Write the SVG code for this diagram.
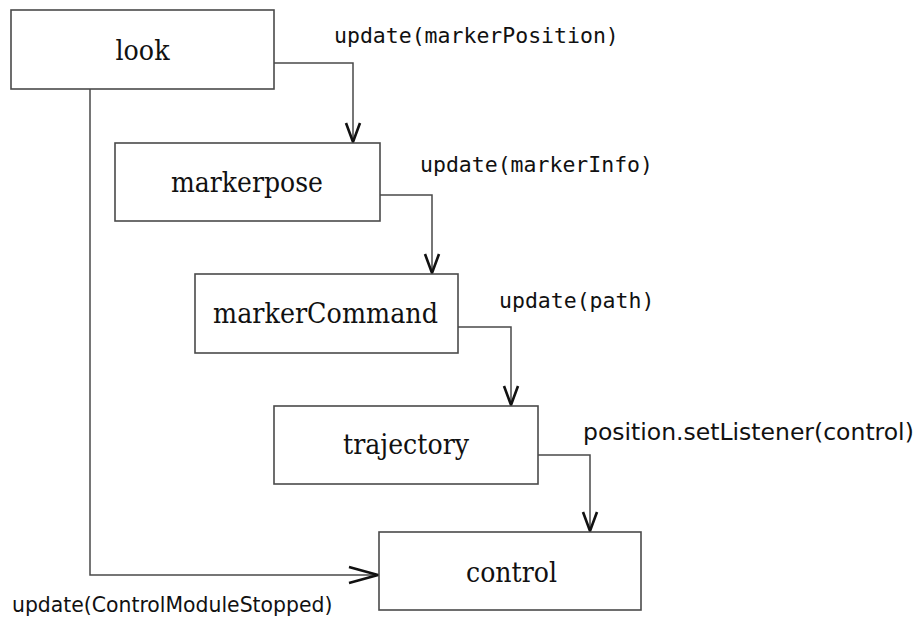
<svg xmlns="http://www.w3.org/2000/svg" width="917" height="624" viewBox="0 0 917 624">
  <defs>
    <style>
      .box { fill: #ffffff; stroke: #4a4a4a; stroke-width: 1.6; }
      .node-label { font-family: "DejaVu Serif", "Liberation Serif", serif; font-size: 27.5px; fill: #111; text-anchor: middle; }
      .wire { fill: none; stroke: #4a4a4a; stroke-width: 1.5; }
      .head { fill: none; stroke: #111; stroke-width: 2.6; stroke-linejoin: miter; }
      .mono { font-family: "DejaVu Sans Mono", "Liberation Mono", monospace; font-size: 21.5px; fill: #111; }
      .sans { font-family: "DejaVu Sans", "Liberation Sans", sans-serif; fill: #111; }
    </style>
  </defs>
  <rect width="917" height="624" fill="#ffffff"/>

  <!-- connectors -->
  <g id="connectors">
    <path class="wire" d="M274 63 H353 V143"/>
    <path class="head" d="M346 123 L353 142 L360 123"/>
    <path class="wire" d="M380 195 H432 V274"/>
    <path class="head" d="M425 254 L432 273 L439 254"/>
    <path class="wire" d="M458 327 H511 V406"/>
    <path class="head" d="M504 386 L511 405 L518 386"/>
    <path class="wire" d="M538 455 H590 V532"/>
    <path class="head" d="M583 512 L590 531 L597 512"/>
    <path class="wire" d="M90 89 V575 H379"/>
    <path class="head" d="M349 567 L378 575 L349 583"/>
  </g>

  <!-- connector labels -->
  <g id="labels">
    <text class="mono" x="334" y="43">update(markerPosition)</text>
    <text class="mono" x="420" y="172">update(markerInfo)</text>
    <text class="mono" x="499" y="308">update(path)</text>
    <text class="sans" x="583" y="440" font-size="23.5">position.setListener(control)</text>
    <text class="sans" x="12" y="612" font-size="20.4">update(ControlModuleStopped)</text>
  </g>

  <g id="look">
    <rect class="box" x="11" y="10" width="263" height="79"/>
    <text class="node-label" x="142.5" y="60" textLength="54" lengthAdjust="spacingAndGlyphs">look</text>
  </g>
  <g id="markerpose">
    <rect class="box" x="115" y="143" width="265" height="78"/>
    <text class="node-label" x="247" y="192" textLength="152" lengthAdjust="spacingAndGlyphs">markerpose</text>
  </g>
  <g id="markerCommand">
    <rect class="box" x="195" y="274" width="263" height="79"/>
    <text class="node-label" x="325.5" y="323" textLength="225" lengthAdjust="spacingAndGlyphs">markerCommand</text>
  </g>
  <g id="trajectory">
    <rect class="box" x="274" y="406" width="264" height="78"/>
    <text class="node-label" x="406" y="454" textLength="126" lengthAdjust="spacingAndGlyphs">trajectory</text>
  </g>
  <g id="control">
    <rect class="box" x="379" y="532" width="262" height="78"/>
    <text class="node-label" x="511.5" y="582" textLength="91" lengthAdjust="spacingAndGlyphs">control</text>
  </g>
</svg>
